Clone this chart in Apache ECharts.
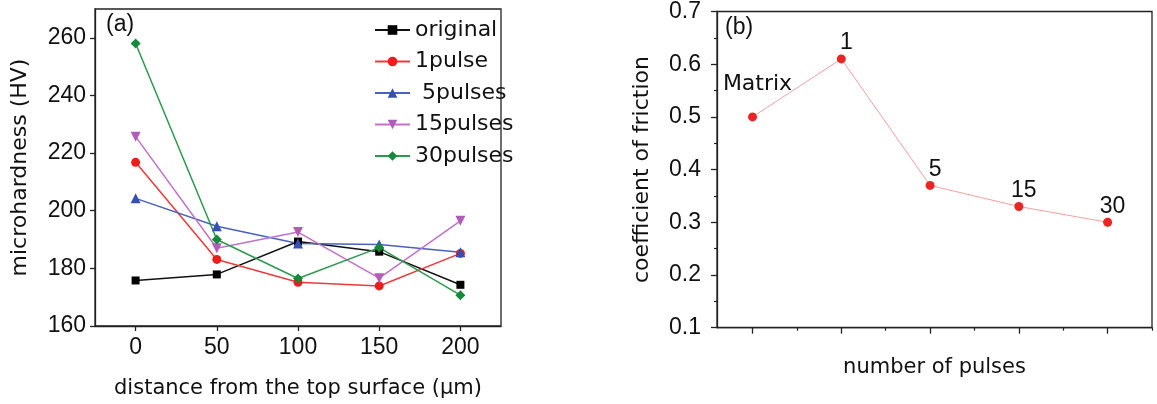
<!DOCTYPE html>
<html>
<head>
<meta charset="utf-8">
<script src="https://cdn.jsdelivr.net/npm/echarts@6/dist/echarts.min.js"></script>
<style>
  html, body { margin: 0; padding: 0; background: #fff; }
  #chart { width: 1157px; height: 404px; }
</style>
</head>
<body>
<div id="chart"></div>
<script>
// (a) microhardness vs depth
const depth = [0, 50, 100, 150, 200];
const original = [175.8, 177.9, 189.3, 185.8, 174.3];
const pulse1 = [216.8, 183.1, 175.2, 173.9, 185.2];
const pulses5 = [204.3, 194.6, 188.6, 188.3, 185.6];
const pulses15 = [225.7, 187.0, 192.6, 176.6, 196.5];
const pulses30 = [258.0, 190.0, 176.5, 187.2, 170.7];
const hvTicks = [160, 180, 200, 220, 240, 260];

// (b) friction coefficient
const pulseNames = ['Matrix', '1', '5', '15', '30'];
const friction = [0.50, 0.61, 0.37, 0.33, 0.30];

const chart = echarts.init(document.getElementById('chart'));

const axisCol = '#222';
const numFont = 'Liberation Sans';
const wordFont = 'DejaVu Sans';

function hvSeries(name, values, symbol, color, lineColor, size, rotate) {
  return {
    name: name,
    type: 'line',
    xAxisIndex: 0,
    yAxisIndex: 0,
    data: depth.map((d, i) => [d, values[i]]),
    symbol: symbol,
    symbolSize: size,
    symbolRotate: rotate || 0,
    itemStyle: { color: color },
    lineStyle: { color: lineColor, width: 1.5 },
    z: 3
  };
}

const option = {
  animation: false,
  backgroundColor: '#fff',
  grid: [
    { left: 95, top: 9, width: 406, height: 318, show: true, borderColor: axisCol, borderWidth: 1.3 },
    { left: 717, top: 7.7, width: 435, height: 320, show: true, borderColor: axisCol, borderWidth: 1.3 }
  ],
  legend: {
    orient: 'vertical',
    left: 369,
    top: 14,
    itemWidth: 35,
    itemHeight: 12,
    itemGap: 9.5,
    data: ['original', '1pulse', ' 5pulses', '15pulses', '30pulses'],
    textStyle: { fontFamily: wordFont, fontSize: 22, color: '#111', lineHeight: 22 }
  },
  graphic: [
    { type: 'text', left: 106, top: 13, style: { text: '(a)', font: '23px "Liberation Sans"', fill: '#111' } },
    { type: 'text', left: 725, top: 16, style: { text: '(b)', font: '23px "Liberation Sans"', fill: '#111' } }
  ],
  xAxis: [
    {
      type: 'value', gridIndex: 0, min: -25, max: 225, interval: 25,
      name: 'distance from the top surface (\u00b5m)', nameLocation: 'middle', nameGap: 52,
      nameTextStyle: { fontFamily: wordFont, fontSize: 21, color: '#111' },
      axisLine: { onZero: false, lineStyle: { color: axisCol, width: 1.3 } },
      axisTick: { length: 5, lineStyle: { color: axisCol, width: 1.3 }, customValues: depth },
      axisLabel: { customValues: depth, margin: 10, fontFamily: numFont, fontSize: 23, color: '#111' },
      splitLine: { show: false }
    },
    {
      type: 'value', gridIndex: 1, min: -0.4, max: 4.5, interval: 0.1,
      name: 'number of pulses', nameLocation: 'middle', nameGap: 29,
      nameTextStyle: { fontFamily: wordFont, fontSize: 21, color: '#111' },
      axisLine: { onZero: false, lineStyle: { color: axisCol, width: 1.3 } },
      axisTick: { length: 6, lineStyle: { color: axisCol, width: 1.3 }, customValues: [0, 1, 2, 3, 4] },
      axisLabel: { show: false },
      splitLine: { show: false }
    },
    {
      type: 'value', gridIndex: 1, min: -0.4, max: 4.5, interval: 0.1, position: 'bottom',
      axisLine: { show: false, onZero: false },
      axisTick: { length: 3, lineStyle: { color: axisCol, width: 1.2 }, customValues: [0.5, 1.5, 2.5, 3.5, 4.5] },
      axisLabel: { show: false },
      splitLine: { show: false }
    }
  ],
  yAxis: [
    {
      type: 'value', gridIndex: 0, min: 160, max: 270, interval: 10,
      name: 'microhardness (HV)', nameLocation: 'middle', nameGap: 64,
      nameTextStyle: { fontFamily: wordFont, fontSize: 22, color: '#111' },
      axisLine: { show: true, onZero: false, lineStyle: { color: axisCol, width: 1.3 } },
      axisTick: { show: true, length: 5, lineStyle: { color: axisCol, width: 1.3 }, customValues: hvTicks },
      axisLabel: { customValues: hvTicks, margin: 9, fontFamily: numFont, fontSize: 23, color: '#111' },
      splitLine: { show: false }
    },
    {
      type: 'value', gridIndex: 1, min: 0.1, max: 0.7, interval: 0.1,
      name: 'coefficient of friction', nameLocation: 'middle', nameGap: 64,
      nameTextStyle: { fontFamily: wordFont, fontSize: 22, color: '#111' },
      axisLine: { show: true, onZero: false, lineStyle: { color: axisCol, width: 1.3 } },
      axisTick: { show: true, length: 6, lineStyle: { color: axisCol, width: 1.3 } },
      minorTick: { show: true, splitNumber: 2, length: 3, lineStyle: { color: axisCol, width: 1.2 } },
      axisLabel: { margin: 16, fontFamily: numFont, fontSize: 23, color: '#111', formatter: v => v.toFixed(1) },
      splitLine: { show: false }
    }
  ],
  series: [
    hvSeries('original', original, 'rect', '#000', '#111', 8),
    hvSeries('1pulse', pulse1, 'circle', '#ee1c1c', '#f03a3a', 9),
    hvSeries(' 5pulses', pulses5, 'triangle', '#3550b0', '#4a62bf', 10),
    hvSeries('15pulses', pulses15, 'triangle', '#b05cb8', '#c072c8', 10, 180),
    hvSeries('30pulses', pulses30, 'diamond', '#168a3a', '#2c9a4c', 10),
    {
      type: 'line',
      xAxisIndex: 1,
      yAxisIndex: 1,
      data: friction.map((v, i) => {
        const item = { value: [i, v], name: pulseNames[i] };
        if (i === 0) {
          item.label = { offset: [5, -17], fontFamily: wordFont, fontSize: 22 };
        }
        return item;
      }),
      symbol: 'circle',
      symbolSize: 9,
      itemStyle: { color: '#ee2424' },
      lineStyle: { color: '#f4a0a0', width: 1 },
      label: {
        show: true,
        position: 'top',
        distance: 0,
        offset: [5, 0],
        fontFamily: numFont,
        fontSize: 23,
        color: '#111',
        formatter: p => p.name
      }
    }
  ]
};

chart.setOption(option);
</script>
</body>
</html>
